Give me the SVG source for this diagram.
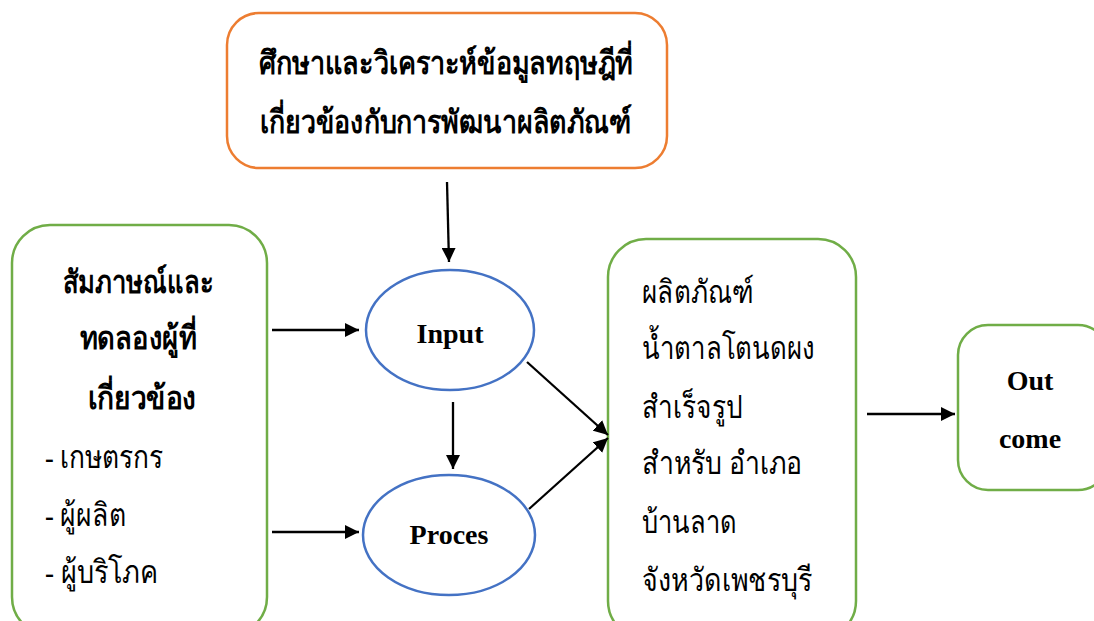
<svg xmlns="http://www.w3.org/2000/svg" width="1094" height="621" viewBox="0 0 1094 621">
<defs>
<marker id="ah" viewBox="0 0 10 10" refX="10" refY="5" markerWidth="6.2" markerHeight="6.2" markerUnits="strokeWidth" orient="auto">
<path d="M0,0 L10,5 L0,10 z" fill="#000"/>
</marker>
<style>
.box{fill:#fff;stroke-width:2.5}
.org{stroke:#ED7D31}
.grn{stroke:#70AD47}
.ell{fill:#fff;stroke:#4472C4;stroke-width:2.5}
.th{font-family:"Liberation Serif","Noto Sans",serif;font-size:32px;fill:#000}
.b{font-weight:bold}
.en{font-family:"Liberation Serif",serif;font-size:28px;font-weight:bold;fill:#000}
.c{stroke:#000;stroke-width:2.3;fill:none;marker-end:url(#ah)}
</style>
</defs>
<rect width="1094" height="621" fill="#fff"/>
<g id="node-study">
<rect class="box org" x="227" y="13" width="440" height="155" rx="32"/>
<text class="th b" x="446" y="74" text-anchor="middle" textLength="374" lengthAdjust="spacingAndGlyphs">ศึกษาและวิเคราะห์ข้อมูลทฤษฎีที่</text>
<text class="th b" x="446" y="133" text-anchor="middle" textLength="372" lengthAdjust="spacingAndGlyphs">เกี่ยวข้องกับการพัฒนาผลิตภัณฑ์</text>
</g>
<g id="node-interview">
<rect class="box grn" x="12" y="225" width="255" height="410" rx="38"/>
<text class="th b" x="138" y="293" text-anchor="middle" textLength="151" lengthAdjust="spacingAndGlyphs">สัมภาษณ์และ</text>
<text class="th b" x="138" y="349" text-anchor="middle" textLength="117" lengthAdjust="spacingAndGlyphs">ทดลองผู้ที่</text>
<text class="th b" x="142" y="409" text-anchor="middle" textLength="109" lengthAdjust="spacingAndGlyphs">เกี่ยวข้อง</text>
<text class="th" x="45" y="468" textLength="118" lengthAdjust="spacingAndGlyphs">- เกษตรกร</text>
<text class="th" x="45" y="526" textLength="81" lengthAdjust="spacingAndGlyphs">- ผู้ผลิต</text>
<text class="th" x="45" y="583" textLength="113" lengthAdjust="spacingAndGlyphs">- ผู้บริโภค</text>
</g>
<g id="node-input">
<ellipse class="ell" cx="450" cy="330" rx="84" ry="60"/>
<text class="en" x="450" y="343" text-anchor="middle">Input</text>
</g>
<g id="node-proces">
<ellipse class="ell" cx="449" cy="535" rx="86" ry="60"/>
<text class="en" x="449" y="544" text-anchor="middle">Proces</text>
</g>
<g id="node-product">
<rect class="box grn" x="608" y="239" width="248" height="400" rx="38"/>
<text class="th" x="642" y="303" textLength="112" lengthAdjust="spacingAndGlyphs">ผลิตภัณฑ์</text>
<text class="th" x="642" y="359" textLength="173" lengthAdjust="spacingAndGlyphs">น้ำตาลโตนดผง</text>
<text class="th" x="642" y="418" textLength="100" lengthAdjust="spacingAndGlyphs">สำเร็จรูป</text>
<text class="th" x="642" y="474" textLength="160" lengthAdjust="spacingAndGlyphs">สำหรับ อำเภอ</text>
<text class="th" x="642" y="533" textLength="95" lengthAdjust="spacingAndGlyphs">บ้านลาด</text>
<text class="th" x="642" y="591" textLength="170" lengthAdjust="spacingAndGlyphs">จังหวัดเพชรบุรี</text>
</g>
<g id="node-outcome">
<rect class="box grn" x="958" y="325" width="150" height="165" rx="30"/>
<text class="en" x="1030" y="390" text-anchor="middle">Out</text>
<text class="en" x="1030" y="448" text-anchor="middle">come</text>
</g>
<g id="connectors">
<line class="c" x1="447" y1="182" x2="449" y2="262"/>
<line class="c" x1="272" y1="330" x2="359" y2="330"/>
<line class="c" x1="272" y1="532" x2="359" y2="532"/>
<line class="c" x1="453" y1="402" x2="453" y2="469"/>
<line class="c" x1="527" y1="362" x2="608" y2="435"/>
<line class="c" x1="529" y1="509" x2="608" y2="438"/>
<line class="c" x1="867" y1="414" x2="955" y2="414"/>
</g>
</svg>
